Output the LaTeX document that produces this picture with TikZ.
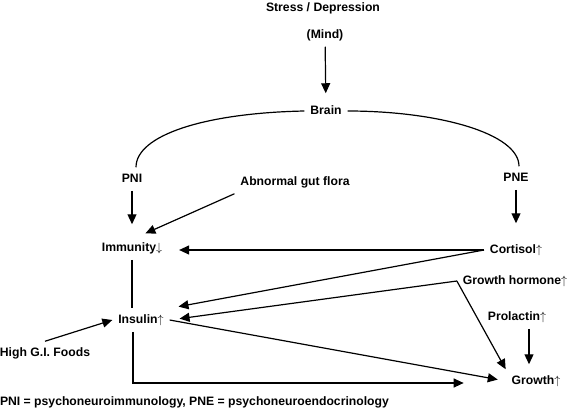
\documentclass[tikz,border=0pt]{standalone}
\usepackage{fontspec}
\setmainfont{Liberation Sans}
\usetikzlibrary{arrows.meta}

\begin{document}
\begin{tikzpicture}[
    x=1pt, y=-1pt,
    term/.style={font=\fontsize{12.2}{14}\selectfont\bfseries, inner sep=0pt, outer sep=6pt,
        text height=9pt, text depth=2.5pt},
    link/.style={line width=1.2pt},
    arr/.style={link, -{Triangle[length=10pt, width=9pt]}}
]
    \useasboundingbox (0, 0) rectangle (569, 409);

    % Terms
    \node[term] (stress) at (323, 8) {Stress / Depression};
    \node[term] (mind) at (325, 35) {(Mind)};
    \node[term] (brain) at (326, 111) {Brain};
    \node[term] (pni) at (132, 179) {PNI};
    \node[term] (pne) at (516, 178) {PNE};
    \node[term] (gut) at (295, 182) {Abnormal gut flora};
    \node[term] (immunity) at (132, 248) {Immunity$\downarrow$};
    \node[term] (cortisol) at (516, 250) {Cortisol$\uparrow$};
    \node[term] (gh) at (515, 281) {Growth hormone$\uparrow$};
    \node[term] (insulin) at (141, 320) {Insulin$\uparrow$};
    \node[term] (prolactin) at (517, 317) {Prolactin$\uparrow$};
    \node[term] (growth) at (536, 381) {Growth$\uparrow$};
    \node[term] (highgi) at (45, 353) {High G.I. Foods};
    \node[term, anchor=west, outer sep=0pt] (note) at (0, 402)
        {PNI = psychoneuroimmunology, PNE = psychoneuroendocrinology};

    % Brain branches
    \draw[arr, shorten >=6pt] (mind) -- (brain);
    \draw[link] (brain.west) .. controls +(-100, 2) and +(0, -32) .. ([xshift=4pt]pni.north);
    \draw[link] (brain.east) .. controls +(90, 0) and +(0, -33) .. ([xshift=3pt]pne.north);
    \draw[arr, shorten >=12pt] (pni) -- (immunity);
    \draw[arr, shorten >=15pt] (pne) -- (cortisol);
    \draw[arr, shorten >=7pt] (gut.south west) -- ([xshift=7pt]immunity.north);

    % Cortisol and hormones
    \draw[arr, shorten >=11pt] (cortisol.west) -- (cortisol.west -| immunity.east);
    \draw[arr, shorten >=9pt] (cortisol.west) -- (insulin.north east);
    \draw[arr, shorten >=10pt] (gh.west) -- (insulin.east);
    \draw[arr] (gh.west) -- (growth.north west);
    \draw[arr, shorten >=5pt] ([xshift=12pt]prolactin.south) -- ([xshift=12pt]prolactin.south |- growth.north);

    % Insulin
    \draw[link] (immunity.south) -- (immunity.south |- insulin.north);
    \draw[arr] (highgi.north) -- (insulin.west);
    \draw[arr, shorten >=8pt] (insulin.east) -- (growth.west);
    \draw[arr, shorten >=42pt] ([xshift=-8pt]insulin.south) |- ([yshift=-2pt]growth.west);
\end{tikzpicture}
\end{document}
